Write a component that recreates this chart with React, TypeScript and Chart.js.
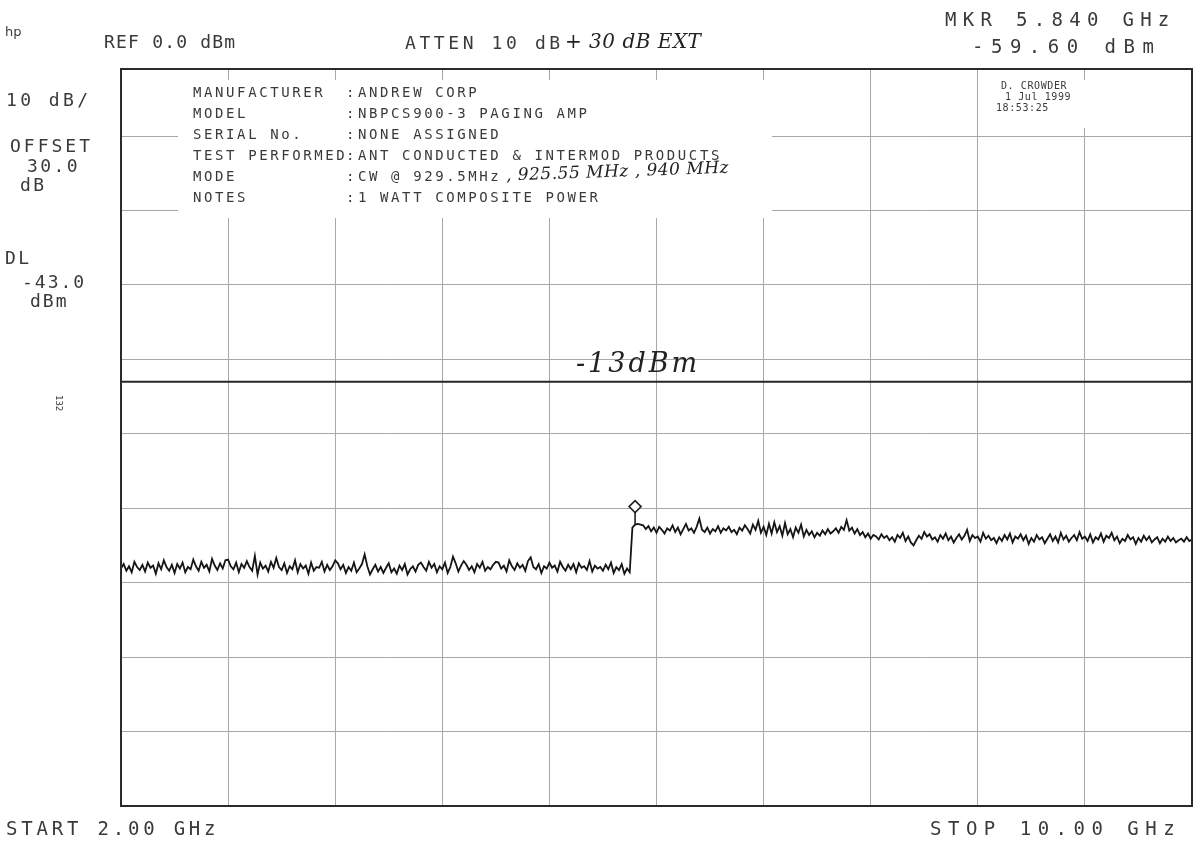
import React, { useEffect, useRef } from "react";
import { Chart, registerables } from "chart.js";

Chart.register(...registerables);

// ---- data ----
const START_GHZ = 2.0;
const STOP_GHZ = 10.0;
const X_GRID_GHZ = [2.0, 2.8, 3.6, 4.4, 5.2, 6.0, 6.8, 7.6, 8.4, 9.2, 10.0];
const Y_GRID_DBM = [-100, -90, -80, -70, -60, -50, -40, -30, -20, -10];
const Y_BOTTOM_DBM = -100;
const Y_TOP_DBM = -1; // visible top of the scanned graticule
const DISPLAY_LINE_DBM = -43.0;
const MARKER_GHZ = 5.84;

// sweep bins 0..190 (2.00 - 5.80 GHz)
const TRACE_BELOW_STEP = [
  -68.1, -67.5, -68.4, -67.8, -68.6, -67.2, -67.9, -68.3, -67.6, -68.5,
  -67.3, -68.0, -67.7, -68.8, -67.4, -68.2, -67.0, -67.9, -68.4, -67.6,
  -68.7, -67.5, -68.1, -67.3, -68.6, -67.9, -68.2, -66.9, -67.8, -68.4,
  -67.2, -68.0, -67.6, -68.5, -66.8, -67.7, -68.3, -67.4, -68.1, -67.0,
  -66.9, -67.8, -68.2, -67.3, -68.6, -67.5, -68.0, -67.1, -67.9, -68.4,
  -66.4, -68.9, -67.3, -68.1, -67.7, -68.5, -67.2, -68.0, -66.7, -67.9,
  -68.3, -67.4, -68.7, -67.8, -68.2, -67.0, -68.6, -67.5, -68.1, -67.7,
  -68.8, -67.3, -68.4, -67.9, -68.0, -67.2, -68.5, -67.6, -68.3, -67.8,
  -67.0, -67.4, -68.2, -67.6, -68.7, -67.9, -68.4, -67.3, -68.6, -68.1,
  -67.5, -66.2, -67.8, -68.9, -68.2, -67.6, -68.5, -67.9, -68.7, -68.0,
  -67.4, -68.6, -68.1, -68.8, -67.7, -68.3, -67.5, -68.9, -68.2, -67.8,
  -68.5, -67.6, -67.3, -67.9, -68.4, -67.2, -68.0, -67.5, -68.6, -67.8,
  -68.2, -67.3, -68.7, -67.9, -66.5, -67.4, -68.5, -67.7, -67.1, -67.6,
  -68.3, -67.8, -68.6, -67.5, -68.0, -67.2, -68.4, -67.9, -68.2, -67.6,
  -67.2, -67.3, -68.1, -67.7, -68.5, -67.0, -67.8, -68.3, -67.4, -68.0,
  -67.6, -68.4, -67.1, -66.6, -67.9, -68.2, -67.5, -68.7, -67.8, -68.1,
  -67.3, -68.0, -67.7, -68.5, -67.2, -67.9, -68.4, -67.6, -68.2, -67.5,
  -68.6, -67.4, -68.0, -67.8, -68.3, -67.1, -68.5, -67.7, -68.1, -67.9,
  -68.4, -67.6, -68.2, -67.3, -68.7, -67.9, -68.3, -67.5, -68.8, -68.1,
  -68.6,
];
// sweep bins 191..192 (5.82 - 5.84 GHz): rising edge and marker bin
const TRACE_STEP_EDGE = [-62.6, -62.2];
// sweep bins 193..400 (5.86 - 10.00 GHz)
const TRACE_ABOVE_STEP = [
  -62.1, -62.2, -62.3,
  -62.8, -62.4, -63.1, -62.6, -63.3, -62.5, -62.9, -63.4, -62.7, -63.0,
  -62.3, -63.2, -62.6, -63.5, -62.8, -62.1, -63.0, -62.7, -63.3, -62.5,
  -61.4, -62.9, -63.2, -62.6, -63.4, -62.8, -63.1, -62.4, -63.3, -62.7,
  -63.0, -62.5, -63.2, -62.9, -63.5, -62.6, -63.0, -62.3, -62.8, -63.4,
  -62.2, -62.9, -61.7, -63.3, -62.5, -63.6, -62.1, -63.4, -61.9, -63.2,
  -62.4, -63.7, -62.0, -63.5, -62.8, -63.9, -62.6, -63.3, -62.2, -63.8,
  -62.9, -63.6, -63.1, -63.9, -63.3, -63.7, -63.0, -63.5, -62.8, -63.4,
  -63.1, -62.7, -63.3, -62.5, -62.9, -61.6, -63.0, -62.6, -63.4, -62.8,
  -63.6, -63.2, -63.9, -63.4, -64.1, -63.6, -63.8, -64.2, -63.5, -64.0,
  -63.7, -64.3, -63.9, -64.5, -63.6, -64.0, -63.3, -64.4, -63.8, -64.6,
  -65.0, -64.3, -63.7, -64.1, -63.2, -63.8, -63.5, -64.2, -63.9, -64.5,
  -63.6, -64.1, -63.4, -64.3, -63.8, -64.6, -64.0, -63.5, -64.2, -63.7,
  -62.9, -64.4, -63.6, -64.0, -63.8, -64.5, -63.3, -64.1, -63.7, -64.3,
  -64.0, -64.7, -63.9, -64.4, -63.6, -64.2, -63.4, -64.6, -63.8, -64.1,
  -63.5, -64.3, -63.7, -64.8, -64.0, -64.5, -63.6, -64.2, -63.9, -64.7,
  -64.1, -63.5, -64.4, -63.8, -64.6, -63.3, -64.2, -63.7, -64.5, -64.0,
  -63.6, -64.3, -63.2, -64.1, -63.8, -64.4, -63.5, -64.6, -63.9, -64.2,
  -63.4, -64.5, -63.7, -64.0, -63.3, -64.3, -63.8, -64.7, -64.1, -64.4,
  -63.6, -64.2, -63.9, -64.8, -64.0, -64.5, -63.7, -64.3, -63.8, -64.6,
  -64.2, -63.9, -64.7, -64.1, -64.5, -63.8, -64.4, -64.0, -64.6, -64.3,
  -64.1, -64.5, -63.9, -64.4, -64.2,
];
const TRACE_DBM = [...TRACE_BELOW_STEP, ...TRACE_STEP_EDGE, ...TRACE_ABOVE_STEP];

const INFO_LABELS = ["MANUFACTURER", "MODEL", "SERIAL No.", "TEST PERFORMED", "MODE", "NOTES"];
const INFO_VALUES = [
  "ANDREW CORP",
  "NBPCS900-3 PAGING AMP",
  "NONE ASSIGNED",
  "ANT CONDUCTED & INTERMOD PRODUCTS",
  "CW @ 929.5MHz",
  "1 WATT COMPOSITE POWER",
];

// ---- styling ----
const INK = "#3a3a3a";
const MONO = "'DejaVu Sans Mono', 'Liberation Mono', monospace";
const HAND = "'DejaVu Serif', 'Liberation Serif', serif";

const overlayPlugin = {
  id: "overlay",
  beforeDatasetsDraw(chart: any) {
    const { ctx, chartArea, scales } = chart;
    ctx.save();
    // blank areas where the plotter annotation blocks sit
    ctx.fillStyle = "#ffffff";
    ctx.fillRect(178, 80, 594, 138);
    ctx.fillRect(986, 80, 106, 48);
    // display line
    const yDL = scales.y.getPixelForValue(DISPLAY_LINE_DBM);
    ctx.strokeStyle = "#262626";
    ctx.lineWidth = 2;
    ctx.beginPath();
    ctx.moveTo(chartArea.left, yDL);
    ctx.lineTo(chartArea.right, yDL);
    ctx.stroke();
    ctx.restore();
  },
  afterDatasetsDraw(chart: any) {
    const { ctx, chartArea, scales } = chart;
    ctx.save();
    // frame
    ctx.strokeStyle = "#2a2a2a";
    ctx.lineWidth = 2;
    ctx.strokeRect(
      chartArea.left,
      chartArea.top,
      chartArea.right - chartArea.left,
      chartArea.bottom - chartArea.top
    );
    // marker on the trace bin nearest MARKER_GHZ
    const step = (STOP_GHZ - START_GHZ) / (TRACE_DBM.length - 1);
    const idx = Math.round((MARKER_GHZ - START_GHZ) / step);
    const mx = scales.x.getPixelForValue(MARKER_GHZ);
    const my = scales.y.getPixelForValue(TRACE_DBM[idx]);
    ctx.strokeStyle = "#222";
    ctx.lineWidth = 1.6;
    ctx.beginPath();
    ctx.moveTo(mx, my);
    ctx.lineTo(mx, my - 12);
    ctx.stroke();
    ctx.fillStyle = "#fff";
    ctx.beginPath();
    ctx.moveTo(mx, my - 12);
    ctx.lineTo(mx + 6, my - 18);
    ctx.lineTo(mx, my - 24);
    ctx.lineTo(mx - 6, my - 18);
    ctx.closePath();
    ctx.fill();
    ctx.stroke();
    ctx.restore();
  },
};

type TextProps = {
  x: number;
  y: number;
  size?: number;
  ls?: number;
  font?: string;
  italic?: boolean;
  rotate?: number;
  color?: string;
  children: React.ReactNode;
};

function T({ x, y, size = 19, ls = 3, font = MONO, italic, rotate = 0, color = INK, children }: TextProps) {
  return (
    <div
      style={{
        position: "absolute",
        left: x,
        top: y,
        transform: `translateY(-50%) rotate(${rotate}deg)`,
        transformOrigin: "left center",
        fontFamily: font,
        fontSize: size,
        letterSpacing: ls,
        fontStyle: italic ? "italic" : "normal",
        color,
        whiteSpace: "pre",
        lineHeight: 1,
      }}
    >
      {children}
    </div>
  );
}

export default function App() {
  const canvasRef = useRef<HTMLCanvasElement | null>(null);

  useEffect(() => {
    if (!canvasRef.current) return;
    const step = (STOP_GHZ - START_GHZ) / (TRACE_DBM.length - 1);
    const points = TRACE_DBM.map((v, i) => ({ x: START_GHZ + i * step, y: v }));
    const chart = new Chart(canvasRef.current, {
      type: "line",
      data: {
        datasets: [
          {
            data: points,
            borderColor: "#151515",
            borderWidth: 1.8,
            pointRadius: 0,
            tension: 0,
            fill: false,
          },
        ],
      },
      options: {
        animation: false,
        responsive: false,
        devicePixelRatio: 1,
        parsing: false as any,
        layout: { padding: { left: 121, right: 12, top: 69, bottom: 36 } },
        plugins: { legend: { display: false }, tooltip: { enabled: false } },
        scales: {
          x: {
            type: "linear",
            min: START_GHZ,
            max: STOP_GHZ,
            ticks: { display: false },
            grid: { color: "#a8a8a8", lineWidth: 1, drawTicks: false },
            border: { display: false },
            afterBuildTicks: (axis: any) => {
              axis.ticks = X_GRID_GHZ.map((v) => ({ value: v }));
            },
          },
          y: {
            type: "linear",
            min: Y_BOTTOM_DBM,
            max: Y_TOP_DBM,
            ticks: { display: false },
            grid: { color: "#a8a8a8", lineWidth: 1, drawTicks: false },
            border: { display: false },
            afterBuildTicks: (axis: any) => {
              axis.ticks = Y_GRID_DBM.map((v) => ({ value: v }));
            },
          },
        },
      },
      plugins: [overlayPlugin],
    });
    return () => chart.destroy();
  }, []);

  const infoRows = [92, 113, 134, 155, 176, 197];

  return (
    <div
      style={{
        position: "absolute",
        left: 0,
        top: 0,
        width: 1204,
        height: 842,
        background: "#fff",
        overflow: "hidden",
      }}
    >
      <canvas ref={canvasRef} width={1204} height={842} style={{ position: "absolute", left: 0, top: 0 }} />

      <T x={5} y={31} size={13} ls={0} font="'DejaVu Sans', sans-serif">hp</T>
      <T x={104} y={42} size={18} ls={1.2}>{"REF 0.0 dBm"}</T>
      <T x={405} y={43} size={18} ls={3.6}>{"ATTEN 10 dB"}</T>
      <T x={565} y={41} size={20} ls={0.5} font={HAND} italic color="#222">{"+ 30 dB EXT"}</T>
      <T x={945} y={19} size={19} ls={6.3}>{"MKR 5.840 GHz"}</T>
      <T x={972} y={46} size={19} ls={7.5}>{"-59.60 dBm"}</T>

      <T x={6} y={100} size={18} ls={3.4}>{"10 dB/"}</T>
      <T x={10} y={146} size={18} ls={3}>OFFSET</T>
      <T x={27} y={166} size={18} ls={2.4}>30.0</T>
      <T x={20} y={185} size={18} ls={2.4}>dB</T>
      <T x={5} y={258} size={18} ls={2.4}>DL</T>
      <T x={22} y={282} size={18} ls={2}>-43.0</T>
      <T x={30} y={301} size={18} ls={2}>dBm</T>
      <T x={58} y={395} size={9} ls={0} rotate={90}>132</T>

      {INFO_LABELS.map((lab, i) => (
        <T key={lab} x={193} y={infoRows[i]} size={14} ls={2.6}>{lab}</T>
      ))}
      {INFO_LABELS.map((lab, i) => (
        <T key={lab + ":"} x={346} y={infoRows[i]} size={14} ls={0}>:</T>
      ))}
      {INFO_VALUES.map((val, i) => (
        <T key={val} x={358} y={infoRows[i]} size={14} ls={2.6}>{val}</T>
      ))}
      <T x={506} y={175} size={17} ls={0.5} font={HAND} italic rotate={-2} color="#222">
        {", 925.55 MHz , 940 MHz"}
      </T>
      <T x={576} y={362} size={27} ls={3} font={HAND} italic color="#222">-13dBm</T>

      <T x={1001} y={86} size={10} ls={0.6}>D. CROWDER</T>
      <T x={1005} y={97} size={10} ls={0.6}>1 Jul 1999</T>
      <T x={996} y={108} size={10} ls={0.6}>18:53:25</T>

      <T x={6} y={828} size={19} ls={3.8}>{"START 2.00 GHz"}</T>
      <T x={930} y={828} size={19} ls={6.5}>{"STOP 10.00 GHz"}</T>
    </div>
  );
}
